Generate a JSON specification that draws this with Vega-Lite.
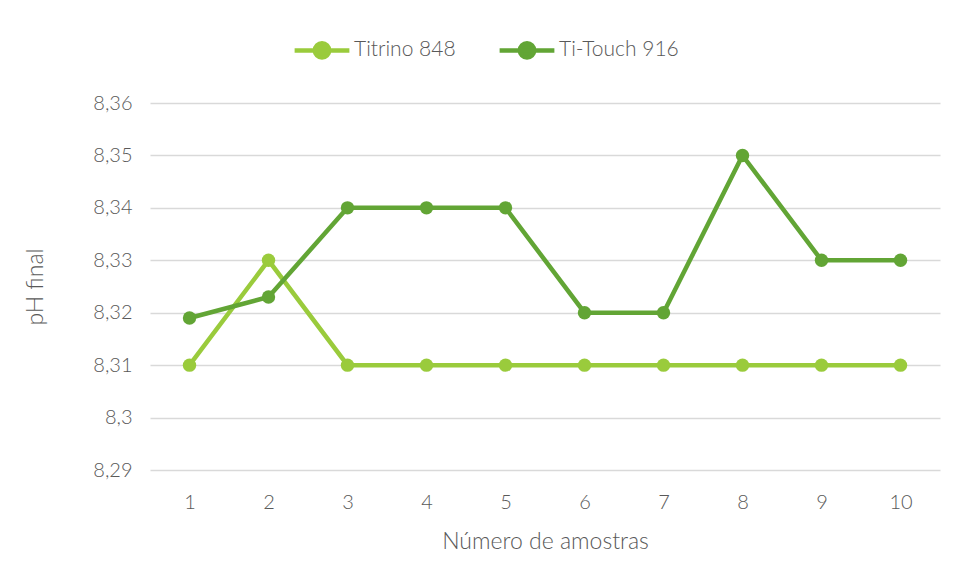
{
  "$schema": "https://vega.github.io/schema/vega-lite/v6.json",
  "width": 790,
  "height": 367,
  "autosize": {"type": "none"},
  "padding": {"left": 150, "top": 103, "right": 15, "bottom": 113},
  "background": "white",
  "config": {
    "font": "Lato",
    "view": {"stroke": null},
    "axis": {"labelColor": "#595959", "titleColor": "#595959", "labelFont": "Lato", "titleFont": "Lato", "titleFontWeight": 300, "labelFontWeight": 300}
  },
  "data": {
    "values": [
      {"amostra": 1, "serie": "Titrino 848", "ph": 8.31},
      {"amostra": 2, "serie": "Titrino 848", "ph": 8.33},
      {"amostra": 3, "serie": "Titrino 848", "ph": 8.31},
      {"amostra": 4, "serie": "Titrino 848", "ph": 8.31},
      {"amostra": 5, "serie": "Titrino 848", "ph": 8.31},
      {"amostra": 6, "serie": "Titrino 848", "ph": 8.31},
      {"amostra": 7, "serie": "Titrino 848", "ph": 8.31},
      {"amostra": 8, "serie": "Titrino 848", "ph": 8.31},
      {"amostra": 9, "serie": "Titrino 848", "ph": 8.31},
      {"amostra": 10, "serie": "Titrino 848", "ph": 8.31},
      {"amostra": 1, "serie": "Ti-Touch 916", "ph": 8.319},
      {"amostra": 2, "serie": "Ti-Touch 916", "ph": 8.323},
      {"amostra": 3, "serie": "Ti-Touch 916", "ph": 8.34},
      {"amostra": 4, "serie": "Ti-Touch 916", "ph": 8.34},
      {"amostra": 5, "serie": "Ti-Touch 916", "ph": 8.34},
      {"amostra": 6, "serie": "Ti-Touch 916", "ph": 8.32},
      {"amostra": 7, "serie": "Ti-Touch 916", "ph": 8.32},
      {"amostra": 8, "serie": "Ti-Touch 916", "ph": 8.35},
      {"amostra": 9, "serie": "Ti-Touch 916", "ph": 8.33},
      {"amostra": 10, "serie": "Ti-Touch 916", "ph": 8.33}
    ]
  },
  "mark": {"type": "line", "strokeWidth": 4.5, "point": {"filled": true, "size": 180, "opacity": 1}},
  "encoding": {
    "x": {
      "field": "amostra", "type": "ordinal",
      "scale": {"type": "point", "padding": 0.5},
      "axis": {"title": "Número de amostras", "labelAngle": 0, "labelFontSize": 20, "titleFontSize": 23, "domain": false, "ticks": false, "labelPadding": 22, "titlePadding": 18, "grid": false}
    },
    "y": {
      "field": "ph", "type": "quantitative",
      "scale": {"domain": [8.29, 8.36], "zero": false, "nice": false},
      "axis": {
        "title": "pH final", "titleFontSize": 23, "labelFontSize": 20,
        "values": [8.29, 8.3, 8.31, 8.32, 8.33, 8.34, 8.35, 8.36],
        "labelExpr": "replace(format(datum.value, '.2~f'), '.', ',')",
        "domain": false, "ticks": false, "labelPadding": 18, "titlePadding": 45,
        "grid": true, "gridColor": "#D9D9D9", "gridWidth": 1.5
      }
    },
    "color": {
      "field": "serie", "type": "nominal",
      "scale": {"domain": ["Titrino 848", "Ti-Touch 916"], "range": ["#9ACB3C", "#62A535"]},
      "legend": {
        "title": null, "orient": "none", "direction": "horizontal",
        "legendX": 142, "legendY": -83,
        "labelFontSize": 21, "labelColor": "#595959", "labelFont": "Lato", "labelFontWeight": 300,
        "symbolType": "M-1,0H1M-0.26,0A0.26,0.26 0 1,0 0.26,0A0.26,0.26 0 1,0 -0.26,0Z",
        "symbolSize": 3000, "symbolStrokeWidth": 4.5, "symbolOpacity": 1,
        "columnPadding": 34, "labelOffset": 2,
        "encode": {"symbols": {"update": {"fill": {"scale": "color", "field": "value"}, "stroke": {"scale": "color", "field": "value"}}}}
      }
    }
  }
}
